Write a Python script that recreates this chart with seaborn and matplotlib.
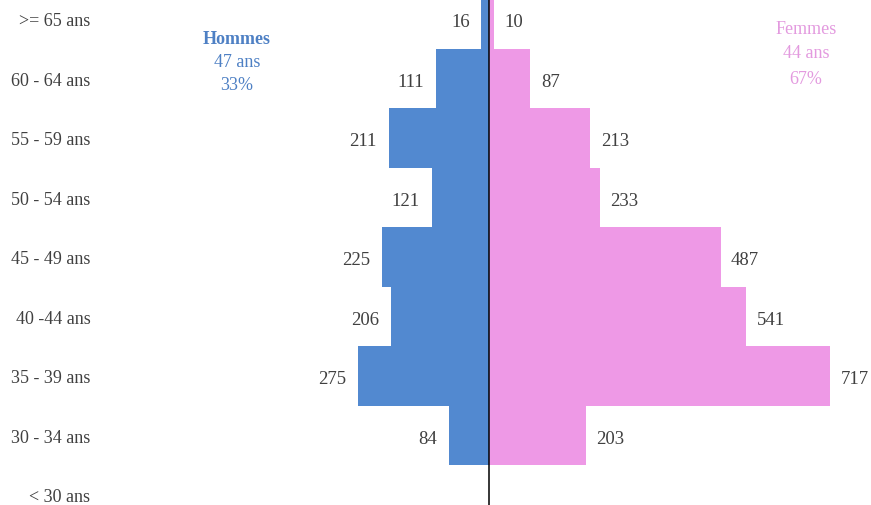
import numpy as np
import pandas as pd
import matplotlib
matplotlib.use("Agg")
import matplotlib.pyplot as plt
import seaborn as sns

categories = [">= 65 ans", "60 - 64 ans", "55 - 59 ans", "50 - 54 ans", "45 - 49 ans",
              "40 -44 ans", "35 - 39 ans", "30 - 34 ans", "< 30 ans"]
hommes = [16, 111, 211, 121, 225, 206, 275, 84, 0]
femmes = [10, 87, 213, 233, 487, 541, 717, 203, 0]

blue = "#5289D0"
pink = "#EE99E6"
FONT = "Liberation Serif"

sns.set_theme(style="white")
plt.rcParams["font.family"] = [FONT, "DejaVu Serif"]

df = pd.DataFrame({"cat": categories,
                   "h": [-v for v in hommes],
                   "f": femmes})

fig = plt.figure(figsize=(8.71, 5.06), dpi=100)
ax = fig.add_axes([100 / 871, 0, 771 / 871, 1])

sns.barplot(data=df, y="cat", x="h", order=categories, color=blue, width=1.0,
            orient="h", ax=ax, saturation=1, linewidth=0)
sns.barplot(data=df, y="cat", x="f", order=categories, color=pink, width=1.0,
            orient="h", ax=ax, saturation=1, linewidth=0)

ax.set_xlim(-818, 803)
ax.set_ylim(8.17, -0.336)
ax.axvline(0, color="black", lw=1.1)

for i, (h, f) in enumerate(zip(hommes, femmes)):
    if h:
        ax.annotate(str(h), (-h, i), xytext=(-8.5, -2), textcoords="offset points",
                    ha="right", va="center", fontsize=13.5, color="#404040")
    if f:
        ax.annotate(str(f), (f, i), xytext=(7.5, -2), textcoords="offset points",
                    ha="left", va="center", fontsize=13.5, color="#404040")

for s in ax.spines.values():
    s.set_visible(False)
ax.set_xlabel("")
ax.set_ylabel("")
ax.set_xticks([])
ax.set_yticks(range(len(categories)))
ax.set_yticklabels(categories, fontsize=13, color="#404040")
ax.tick_params(axis="y", length=0, pad=7)

# side legends
fig.text(237 / 871, 1 - 40 / 506, "Hommes", ha="center", va="center",
         fontsize=13, fontweight="bold", color="#4E80C4")
fig.text(237 / 871, 1 - 63 / 506, "47 ans", ha="center", va="center",
         fontsize=13, color="#4E80C4")
fig.text(237 / 871, 1 - 85 / 506, "33%", ha="center", va="center",
         fontsize=13, color="#4E80C4")
fig.text(806 / 871, 1 - 30 / 506, "Femmes", ha="center", va="center",
         fontsize=13, color="#E39ADF")
fig.text(806 / 871, 1 - 54 / 506, "44 ans", ha="center", va="center",
         fontsize=13, color="#E39ADF")
fig.text(806 / 871, 1 - 80 / 506, "67%", ha="center", va="center",
         fontsize=13, color="#E39ADF")

fig.savefig("out.png", dpi=100)
